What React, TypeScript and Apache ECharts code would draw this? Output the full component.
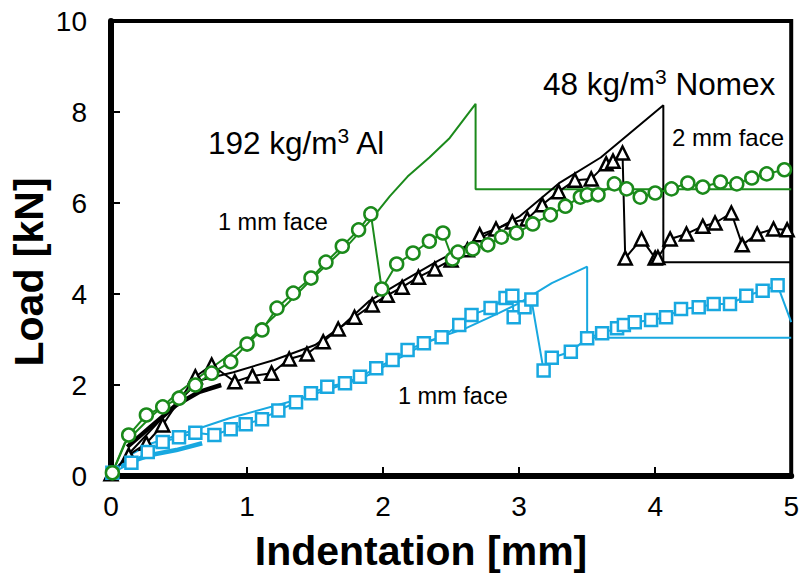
import React, { useEffect, useRef } from 'react';
import * as echarts from 'echarts';

const GREEN = '#1b8a1b';
const BLUE = '#18a8e0';
const BLACK = '#000000';
const FONT = 'Arial, "Liberation Sans", Helvetica, sans-serif';

// Axis ranges / ticks
const xTicks = [0, 1, 2, 3, 4, 5];
const yTicks = [0, 2, 4, 6, 8, 10];

// 192 kg/m3 Al core, 1 mm face — measured [indentation mm, load kN]
const alMeasured: number[][] = [
  [0.01, 0.07], [0.13, 0.9], [0.26, 1.34], [0.38, 1.52], [0.5, 1.71], [0.62, 2.0],
  [0.74, 2.26], [0.88, 2.51], [1.0, 2.9], [1.11, 3.21], [1.22, 3.69], [1.34, 4.02],
  [1.47, 4.35], [1.58, 4.7], [1.7, 5.05], [1.82, 5.41], [1.91, 5.76], [1.99, 4.11],
  [2.1, 4.66], [2.22, 4.9], [2.34, 5.16], [2.44, 5.34], [2.51, 4.77], [2.55, 4.92],
  [2.66, 4.99], [2.77, 5.08], [2.87, 5.25], [2.98, 5.34], [3.1, 5.54], [3.23, 5.74],
  [3.34, 5.93], [3.45, 6.13], [3.5, 6.18], [3.58, 6.18], [3.7, 6.42], [3.79, 6.31],
  [3.89, 6.13], [4.0, 6.22], [4.12, 6.31], [4.24, 6.44], [4.35, 6.35], [4.48, 6.46],
  [4.6, 6.42], [4.71, 6.55], [4.82, 6.64], [4.95, 6.73],
];

// 192 kg/m3 Al core — model prediction
const alModel: number[][] = [
  [0, 0], [0.1, 0.72], [0.3, 1.32], [0.5, 1.85], [0.75, 2.4], [1.0, 2.95], [1.25, 3.65],
  [1.5, 4.4], [1.75, 5.1], [1.91, 5.63], [2.05, 6.15], [2.18, 6.58], [2.34, 7.0],
  [2.49, 7.43], [2.68, 8.18], [2.68, 6.3], [5.0, 6.3],
];

// 48 kg/m3 Nomex core, 2 mm face — measured
const nomex2Measured: number[][] = [
  [0.0, 0.05], [0.13, 0.46], [0.26, 0.72], [0.38, 1.12], [0.62, 2.18], [0.74, 2.44],
  [0.91, 2.07], [1.04, 2.2], [1.18, 2.26], [1.31, 2.57], [1.44, 2.68], [1.56, 2.95],
  [1.67, 3.23], [1.79, 3.49], [1.92, 3.76], [2.03, 3.97], [2.14, 4.15], [2.26, 4.37],
  [2.38, 4.55], [2.5, 4.75], [2.62, 4.97], [2.71, 5.3], [2.83, 5.43], [2.95, 5.58],
  [3.06, 5.65], [3.17, 5.96], [3.29, 6.25], [3.41, 6.5], [3.53, 6.53], [3.64, 6.86],
  [3.69, 6.92], [3.76, 7.1], [3.78, 4.79], [3.9, 5.21], [4.0, 4.79], [4.02, 4.8],
  [4.11, 5.21], [4.23, 5.32], [4.35, 5.49], [4.44, 5.56], [4.56, 5.78], [4.64, 5.08],
  [4.75, 5.32], [4.87, 5.43], [4.97, 5.41],
];

// 48 kg/m3 Nomex core, 2 mm face — model prediction
const nomex2Model: number[][] = [
  [0, 0], [0.15, 0.55], [0.4, 1.35], [0.65, 2.1], [0.9, 2.28], [1.2, 2.55], [1.5, 2.88],
  [1.7, 3.3], [1.9, 3.85], [2.12, 4.24], [2.4, 4.72], [2.7, 5.2], [3.0, 5.7], [3.3, 6.45],
  [3.6, 7.0], [4.06, 8.15], [4.06, 4.7], [5.0, 4.7],
];

// 48 kg/m3 Nomex core, 2 mm face — initial elastic response
const nomex2Elastic: number[][] = [
  [0.12, 0.64], [0.29, 1.08], [0.48, 1.56], [0.65, 1.85], [0.81, 2.0],
];

// 48 kg/m3 Nomex core, 1 mm face — measured
const nomex1Measured: number[][] = [
  [0.01, 0.07], [0.15, 0.29], [0.27, 0.53], [0.38, 0.75], [0.5, 0.85], [0.62, 0.95],
  [0.76, 0.9], [0.88, 1.03], [0.99, 1.14], [1.11, 1.25], [1.23, 1.44], [1.36, 1.62],
  [1.47, 1.82], [1.59, 1.96], [1.72, 2.04], [1.83, 2.18], [1.95, 2.37], [2.07, 2.55],
  [2.18, 2.77], [2.3, 2.92], [2.43, 3.05], [2.56, 3.32], [2.65, 3.54], [2.79, 3.69],
  [2.9, 3.91], [2.95, 3.96], [2.96, 3.49], [3.04, 3.71], [3.09, 3.88], [3.18, 2.32],
  [3.24, 2.6], [3.38, 2.73], [3.5, 3.03], [3.61, 3.14], [3.72, 3.25], [3.77, 3.32],
  [3.85, 3.38], [3.97, 3.43], [4.08, 3.49], [4.19, 3.67], [4.32, 3.71], [4.43, 3.78],
  [4.55, 3.78], [4.67, 3.96], [4.79, 4.07], [4.9, 4.19], [5.0, 3.38],
];

// 48 kg/m3 Nomex core, 1 mm face — model prediction
const nomex1Model: number[][] = [
  [0, 0], [0.1, 0.4], [0.3, 0.72], [0.6, 1.0], [0.87, 1.27], [1.36, 1.67], [1.85, 2.15],
  [2.12, 2.59], [2.36, 2.99], [2.61, 3.25], [2.85, 3.58], [3.0, 3.8], [3.24, 4.24],
  [3.5, 4.6], [3.5, 3.04], [5.0, 3.04],
];

// 48 kg/m3 Nomex core, 1 mm face — initial elastic response
const nomex1Elastic: number[][] = [
  [0.07, 0.24], [0.29, 0.46], [0.48, 0.57], [0.67, 0.72],
];

function modelLine(name: string, data: number[][], color: string, width = 2) {
  return {
    name,
    type: 'line',
    data,
    symbol: 'none',
    lineStyle: { color, width },
    z: 2,
  };
}

function measuredLine(name: string, data: number[][], color: string, symbol: string, size: number) {
  const last = data.length - 1;
  return {
    name,
    type: 'line',
    data: data.map((p, i) =>
      // the final sample sits on the frame edge and is drawn without a marker
      name === 'nomex1' && i === last ? { value: p, symbol: 'none' } : p
    ),
    symbol,
    symbolSize: size,
    lineStyle: { color, width: 2 },
    itemStyle: { color: '#ffffff', borderColor: color, borderWidth: 2.5 },
    z: 3,
  };
}

export default function App() {
  const ref = useRef<HTMLDivElement>(null);

  useEffect(() => {
    if (!ref.current) return;
    const chart = echarts.init(ref.current, null, { renderer: 'svg' });

    const axisCommon = {
      type: 'value',
      splitLine: { show: false },
      axisLine: { show: true, onZero: false, lineStyle: { color: BLACK, width: 6 } },
      axisTick: { show: true, inside: true, length: 9, lineStyle: { color: BLACK, width: 2 } },
    };

    const bigRich = {
      n: { fontSize: 31.5, fontFamily: FONT, color: BLACK, lineHeight: 36 },
      s: { fontSize: 21, fontFamily: FONT, color: BLACK, lineHeight: 24, verticalAlign: 'top' },
    };

    chart.setOption({
      animation: false,
      backgroundColor: '#ffffff',
      grid: {
        left: 111,
        right: 8,
        top: 21,
        bottom: 102,
        show: true,
        borderColor: BLACK,
        borderWidth: 4,
        backgroundColor: 'transparent',
      },
      xAxis: {
        ...axisCommon,
        min: xTicks[0],
        max: xTicks[xTicks.length - 1],
        interval: 1,
        axisLabel: { color: BLACK, fontSize: 28, fontFamily: FONT, margin: 16 },
      },
      yAxis: {
        ...axisCommon,
        min: yTicks[0],
        max: yTicks[yTicks.length - 1],
        interval: 2,
        axisLabel: { color: BLACK, fontSize: 28, fontFamily: FONT, margin: 24 },
      },
      series: [
        modelLine('alModel', alModel, GREEN),
        modelLine('nomex2Model', nomex2Model, BLACK),
        modelLine('nomex1Model', nomex1Model, BLUE),
        modelLine('nomex2Elastic', nomex2Elastic, BLACK, 4.5),
        modelLine('nomex1Elastic', nomex1Elastic, BLUE, 4.5),
        measuredLine('nomex2', nomex2Measured, BLACK, 'triangle', 13),
        measuredLine('nomex1', nomex1Measured, BLUE, 'rect', 12),
        measuredLine('al', alMeasured, GREEN, 'circle', 13),
      ],
      graphic: [
        {
          type: 'text',
          x: 421,
          y: 551,
          style: {
            text: 'Indentation [mm]',
            fontSize: 41,
            fontWeight: 'bold',
            fontFamily: FONT,
            fill: BLACK,
            align: 'center',
            verticalAlign: 'middle',
          },
        },
        {
          type: 'text',
          x: 29,
          y: 272,
          rotation: Math.PI / 2,
          style: {
            text: 'Load [kN]',
            fontSize: 41,
            fontWeight: 'bold',
            fontFamily: FONT,
            fill: BLACK,
            align: 'center',
            verticalAlign: 'middle',
          },
        },
        {
          type: 'text',
          left: 208,
          top: 125,
          style: { text: '{n|192 kg/m}{s|3}{n| Al}', rich: bigRich, fill: BLACK },
        },
        {
          type: 'text',
          left: 543,
          top: 66,
          style: { text: '{n|48 kg/m}{s|3}{n| Nomex}', rich: bigRich, fill: BLACK },
        },
        {
          type: 'text',
          left: 218,
          top: 210,
          style: { text: '1 mm face', fontSize: 23.5, fontFamily: FONT, fill: BLACK },
        },
        {
          type: 'text',
          left: 672,
          top: 125,
          style: { text: '2 mm face', fontSize: 24, fontFamily: FONT, fill: BLACK },
        },
        {
          type: 'text',
          left: 398,
          top: 384,
          style: { text: '1 mm face', fontSize: 23.5, fontFamily: FONT, fill: BLACK },
        },
      ],
    });

    return () => chart.dispose();
  }, []);

  return (
    <div
      ref={ref}
      style={{ position: 'absolute', left: 0, top: 0, width: 802, height: 578, background: '#ffffff' }}
    />
  );
}
